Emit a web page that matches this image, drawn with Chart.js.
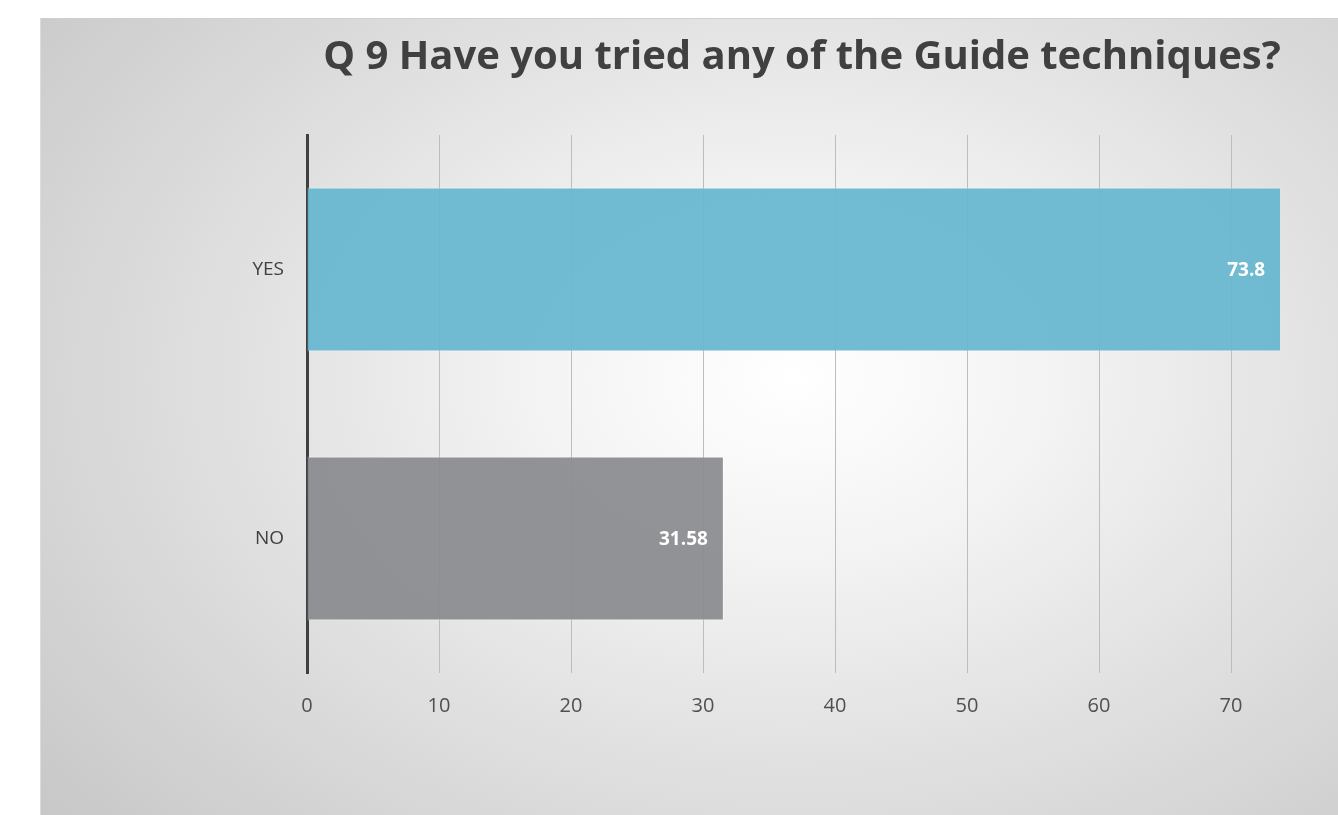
<!DOCTYPE html>
<html>
<head>
<meta charset="utf-8">
<script src="https://cdn.jsdelivr.net/npm/chart.js@4/dist/chart.umd.min.js"></script>
<style>
  html, body { margin: 0; padding: 0; background: #ffffff; width: 1338px; height: 815px; overflow: hidden; }
  #bg { position: absolute; left: 40px; top: 18px; width: 1298px; height: 797px;
        background: radial-gradient(ellipse 75% 85% at 58% 45%, #ffffff 0%, #f4f4f4 25%, #e2e2e2 55%, #c8c8c8 100%);
        border-left: 1px solid #dcdcdc; border-top: 1px solid #d0d0d0; box-sizing: border-box; }
  #wrap { position: absolute; left: 0; top: 0; width: 1338px; height: 815px; }
</style>
</head>
<body>
<div id="bg"></div>
<div id="wrap"><canvas id="c"></canvas></div>
<script>
const titleText = "Q 9 Have you tried any of the Guide techniques?";
const categories = ["YES", "NO"];
const values = [73.8, 31.58];
const barColors = ["rgba(102,183,207,0.93)", "rgba(138,139,143,0.93)"];
const tickStep = 10;
const axisMax = 75;

const valueLabels = {
  id: "valueLabels",
  afterDatasetsDraw(chart) {
    const ctx = chart.ctx;
    const meta = chart.getDatasetMeta(0);
    ctx.save();
    ctx.font = "bold 19px 'Open Sans'";
    ctx.fillStyle = "#ffffff";
    ctx.textAlign = "right";
    ctx.textBaseline = "middle";
    meta.data.forEach((bar, i) => {
      ctx.fillText(String(values[i]), bar.x - 16, bar.y + 1);
    });
    ctx.restore();
  }
};

new Chart(document.getElementById("c"), {
  type: "bar",
  data: {
    labels: categories,
    datasets: [{
      data: values,
      backgroundColor: barColors,
      borderColor: "rgba(255,255,255,0.45)",
      borderWidth: 1,
      borderSkipped: "start",
      categoryPercentage: 1,
      barPercentage: 0.61
    }]
  },
  options: {
    indexAxis: "y",
    responsive: true,
    maintainAspectRatio: false,
    animation: false,
    layout: { padding: { left: 0, right: 41, top: 0, bottom: 0 } },
    plugins: {
      legend: { display: false },
      tooltip: { enabled: false },
      title: {
        display: true,
        text: titleText,
        fullSize: false,
        color: "#404040",
        font: { family: "'Open Sans'", size: 40, weight: "bold" },
        padding: { top: 34, bottom: 53 }
      }
    },
    scales: {
      x: {
        min: 0,
        max: axisMax,
        afterBuildTicks(scale) {
          scale.ticks = scale.ticks.filter(t => t.value % tickStep === 0);
        },
        afterFit(scale) { scale.height = 142; },
        ticks: { stepSize: tickStep, color: "#505050", padding: 21,
                 font: { family: "'Open Sans'", size: 20 } },
        grid: { color: "#bdbdbd", lineWidth: 1, drawTicks: false },
        border: { display: false }
      },
      y: {
        afterFit(scale) { scale.width = 307; },
        ticks: { color: "#404040", padding: 23,
                 font: { family: "'Open Sans'", size: 19 } },
        grid: { display: false, drawTicks: false },
        border: { display: true, color: "#404040", width: 3 }
      }
    }
  },
  plugins: [valueLabels]
});
</script>
</body>
</html>
